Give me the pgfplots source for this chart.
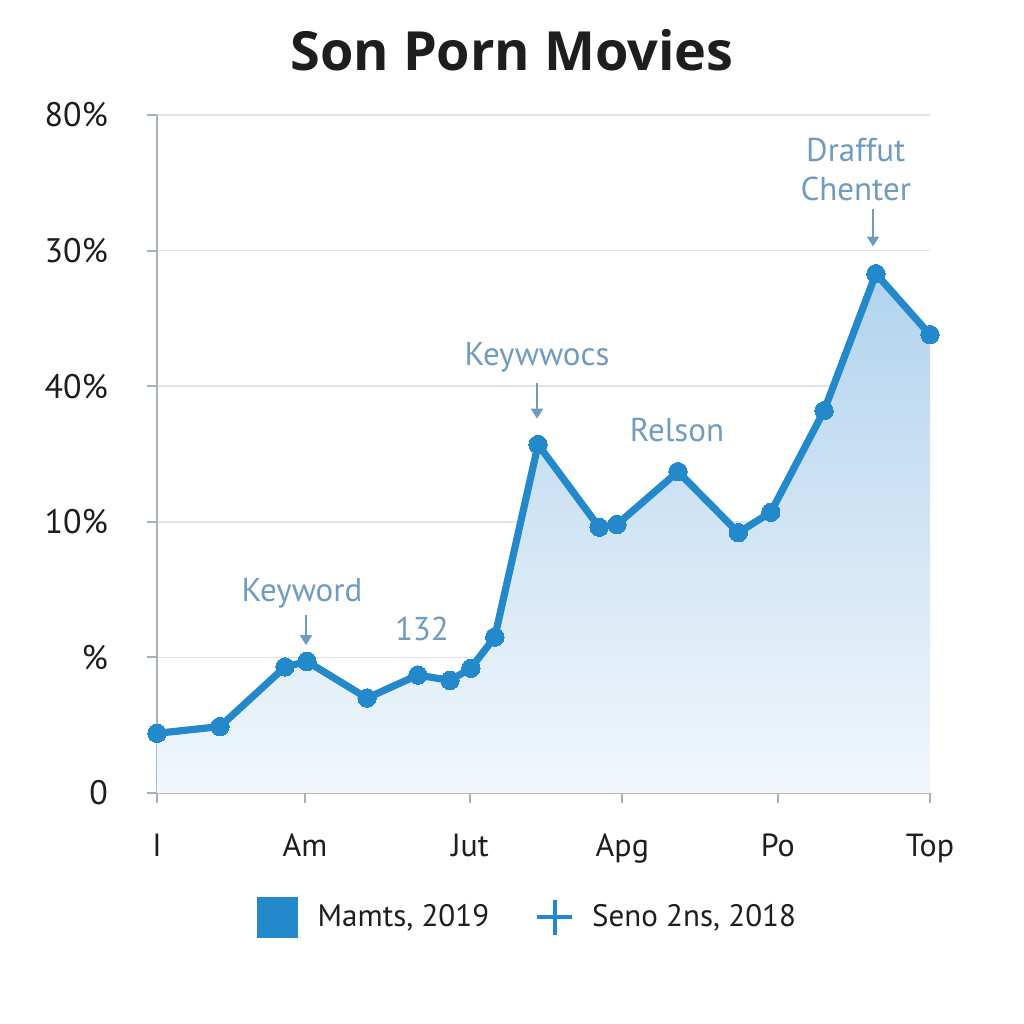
\documentclass[border=0pt]{standalone}
\usepackage{pgfplots}
\pgfplotsset{compat=1.18}
\usepackage{fontspec}
\setmainfont{PT Sans}
\newfontfamily\titlefont{Open Sans}
\usetikzlibrary{arrows.meta}
\definecolor{lineblue}{RGB}{36,137,202}
\definecolor{annot}{RGB}{112,156,192}
\definecolor{gridc}{RGB}{222,228,234}
\definecolor{axisc}{RGB}{168,176,186}
\definecolor{txt}{RGB}{30,30,30}
\definecolor{filltop}{RGB}{178,211,238}
\definecolor{fillbot}{RGB}{242,247,252}

\pgfplotstableread{
x y
0 0.44
8.15 0.49
16.56 0.93
19.4 0.97
27.17 0.70
33.76 0.87
37.9 0.83
40.6 0.92
43.7 1.15
49.3 2.57
57.2 1.96
59.5 1.98
67.4 2.37
75.2 1.92
79.4 2.07
86.3 2.82
93.0 3.83
100 3.38
}\datatable

\begin{document}
\begin{tikzpicture}[x=1pt,y=1pt]
\path[use as bounding box, fill=white] (0,0) rectangle (512,512);
\node[font=\titlefont\bfseries\fontsize{27}{32}\selectfont, text=txt] at (256,487) {Son Porn Movies};
\begin{axis}[
  at={(78.5pt,115.5pt)}, anchor=south west,
  scale only axis, width=386.5pt, height=339pt,
  xmin=0, xmax=100, ymin=0, ymax=5,
  clip=false,
  axis lines*=left,
  axis line style={color=axisc, line width=1pt},
  tick align=outside,
  major tick length=5pt,
  tick style={color=axisc, line width=1pt},
  ymajorgrids,
  grid style={color=gridc, line width=0.8pt},
  ytick={0,1,2,3,4,5},
  yticklabels={0,\%,10\%,40\%,30\%,80\%},
  xtick={0,19.15,40.5,60.2,80.3,100},
  xticklabels={I,Am,Jut,Apg,Po,Top},
  yticklabel style={font=\fontsize{17}{20}\selectfont, text=txt, xshift=-16pt},
  xticklabel style={font=\fontsize{16}{19}\selectfont, text=txt, yshift=-12pt},
  legend style={at={(0.481,-0.183)}, anchor=center, draw=none, fill=none,
     legend columns=2, font=\fontsize{15.5}{18}\selectfont, text=txt,
     /tikz/every odd column/.append style={column sep=8pt},
     /tikz/every even column/.append style={column sep=22pt}},
  legend cell align=left,
]
\addlegendimage{only marks, mark=square*, mark size=10pt, color=lineblue}
\addlegendentry{Mamts, 2019}
\addlegendimage{only marks, mark=+, mark size=8.75pt, line width=2pt, color=lineblue}
\addlegendentry{Seno 2ns, 2018}

\addplot[draw=none, top color=filltop, bottom color=fillbot, forget plot] table[x=x,y=y]{\datatable} \closedcycle;
\addplot[color=lineblue, line width=3.6pt, line join=round, line cap=round, mark=*, mark size=4.6pt, mark options={fill=lineblue, draw=lineblue, line width=0pt}, forget plot] table[x=x,y=y]{\datatable};

\node[font=\fontsize{16.5}{19}\selectfont, text=annot] at (axis cs:18.76,1.47) {Keyword};
\draw[annot, line width=1pt, -{Triangle[length=5pt,width=6pt]}] (axis cs:19.28,1.31) -- (axis cs:19.28,1.09);
\node[font=\fontsize{16.5}{19}\selectfont, text=annot] at (axis cs:34.28,1.21) {132};
\node[font=\fontsize{16.5}{19}\selectfont, text=annot] at (axis cs:49.16,3.21) {Keywwocs};
\draw[annot, line width=1pt, -{Triangle[length=5pt,width=6pt]}] (axis cs:49.16,3.02) -- (axis cs:49.16,2.76);
\node[font=\fontsize{16.5}{19}\selectfont, text=annot] at (axis cs:67.27,2.68) {Relson};
\node[font=\fontsize{16.5}{19.5}\selectfont, text=annot, align=center] at (axis cs:90.4,4.60) {Draffut\\Chenter};
\draw[annot, line width=1pt, -{Triangle[length=5pt,width=6pt]}] (axis cs:92.63,4.31) -- (axis cs:92.63,4.03);
\end{axis}
\end{tikzpicture}
\end{document}
